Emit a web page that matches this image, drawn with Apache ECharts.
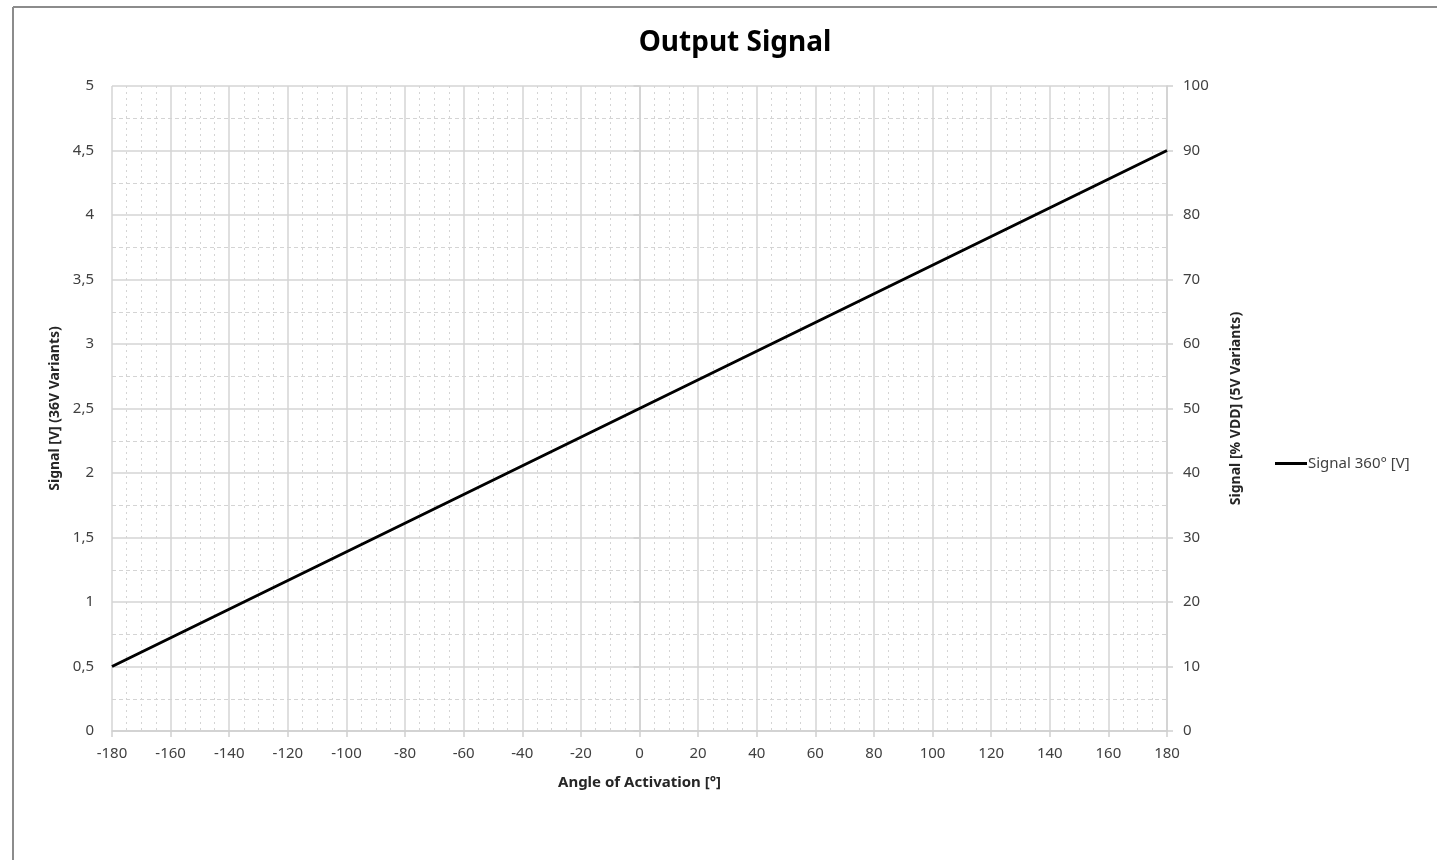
<!DOCTYPE html>
<html>
<head>
<meta charset="utf-8">
<script src="https://cdn.jsdelivr.net/npm/echarts@6/dist/echarts.min.js"></script>
<style>
html,body{margin:0;padding:0;background:#fff;}
#chart{width:1437px;height:860px;}
</style>
</head>
<body>
<div id="chart"></div>
<script>
const titleText = 'Output Signal';
const seriesName = 'Signal 360° [V]';
const xAxisName = 'Angle of Activation [°]';
const yLeftName = 'Signal [V] (36V Variants)';
const yRightName = 'Signal [% VDD] (5V Variants)';
const angles = [-180, 0, 180];
const signalV = [0.5, 2.5, 4.5];

const data = angles.map((a, i) => [a, signalV[i]]);
const font = '"Noto Sans", "Open Sans", sans-serif';
const chart = echarts.init(document.getElementById('chart'));
chart.setOption({
  animation: false,
  backgroundColor: '#fff',
  title: {
    text: titleText,
    left: 730, top: 24, textAlign: 'center',
    textStyle: {fontFamily: font, fontSize: 28, fontWeight: 'bold', color: '#000'}
  },
  graphic: [
    {type: 'line', shape: {x1: 13, y1: 7, x2: 1437, y2: 7}, style: {stroke: '#8c8c8c', lineWidth: 2}},
    {type: 'line', shape: {x1: 13, y1: 7, x2: 13, y2: 860}, style: {stroke: '#8c8c8c', lineWidth: 2}}
  ],
  legend: {
    data: [{name: seriesName, icon: 'rect'}],
    left: 1270, top: 451,
    itemWidth: 32, itemHeight: 3, itemGap: 0,
    textStyle: {fontFamily: font, fontSize: 15, color: '#404040', padding: [0, 0, 0, -4]}
  },
  grid: {left: 112, right: 270, top: 86, bottom: 129},
  xAxis: {
    type: 'value', min: -180, max: 180, interval: 20,
    name: xAxisName, nameLocation: 'middle', nameGap: 44,
    nameTextStyle: {fontFamily: font, fontSize: 15, fontWeight: 'bold', color: '#262626'},
    axisLine: {show: true, onZero: false, lineStyle: {color: '#d0d0d0', width: 1.5}},
    axisTick: {show: true, length: 6, lineStyle: {color: '#d0d0d0', width: 1.5}},
    axisLabel: {fontFamily: font, fontSize: 15, color: '#404040', margin: 15},
    splitLine: {show: true, lineStyle: {color: '#d4d4d4', width: 1.5}},
    minorTick: {show: true, splitNumber: 4, length: 0},
    minorSplitLine: {show: true, lineStyle: {color: '#d4d4d4', width: 1, type: [2, 4]}}
  },
  yAxis: [
    {
      type: 'value', min: 0, max: 5, interval: 0.5, position: 'left',
      name: yLeftName, nameLocation: 'middle', nameGap: 47,
      nameTextStyle: {fontFamily: font, fontSize: 14, fontWeight: 'bold', color: '#262626'},
      axisLine: {show: true, lineStyle: {color: '#d0d0d0', width: 1.5}},
      axisTick: {show: true, length: 6, lineStyle: {color: '#d0d0d0', width: 1.5}},
      axisLabel: {fontFamily: font, fontSize: 15, color: '#404040', margin: 18,
        formatter: v => String(v).replace('.', ',')},
      splitLine: {show: true, lineStyle: {color: '#d4d4d4', width: 1.5}},
      minorTick: {show: true, splitNumber: 2, length: 0},
      minorSplitLine: {show: true, lineStyle: {color: '#d4d4d4', width: 1, type: [4, 3]}}
    },
    {
      type: 'value', min: 0, max: 100, interval: 10, position: 'right',
      name: yRightName, nameLocation: 'middle', nameGap: 62,
      nameTextStyle: {fontFamily: font, fontSize: 14, fontWeight: 'bold', color: '#262626'},
      axisLine: {show: true, lineStyle: {color: '#d0d0d0', width: 1.5}},
      axisTick: {show: true, length: 6, lineStyle: {color: '#d0d0d0', width: 1.5}},
      axisLabel: {fontFamily: font, fontSize: 15, color: '#404040', margin: 16},
      splitLine: {show: false}
    }
  ],
  series: [{
    name: seriesName, type: 'line', data: data, yAxisIndex: 0,
    showSymbol: false, symbol: 'none',
    lineStyle: {color: '#000', width: 3},
    itemStyle: {color: '#000'}
  }]
});
</script>
</body>
</html>
